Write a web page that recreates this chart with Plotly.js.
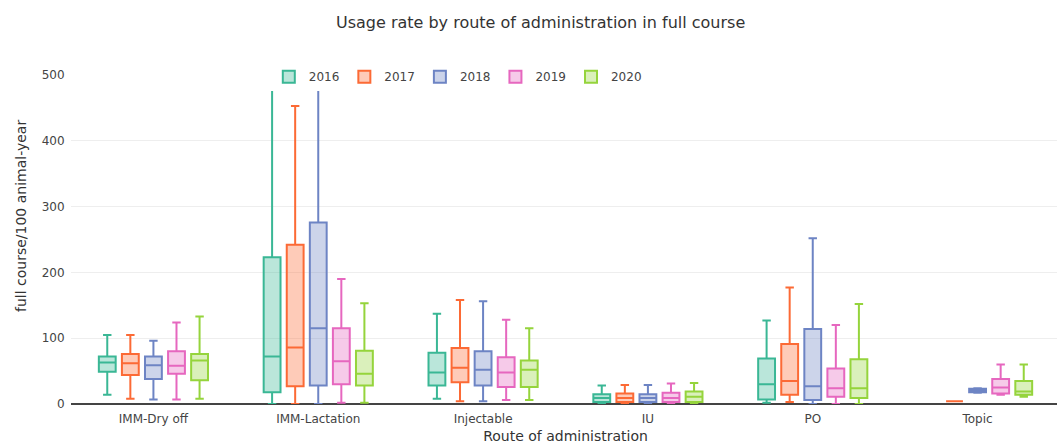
<!DOCTYPE html>
<html>
<head>
<meta charset="utf-8">
<script src="https://cdn.plot.ly/plotly-3.0.1.min.js"></script>
<style>
html,body{margin:0;padding:0;overflow:hidden;background:#fff;}
#chart{width:1060px;height:444px;}
</style>
</head>
<body>
<div id="chart"></div>
<script>
const categories = ['IMM-Dry off','IMM-Lactation','Injectable','IU','PO','Topic'];
const years = ['2016','2017','2018','2019','2020'];
const colors = ['#3ab795','#fc6a35','#6d84c4','#e667bf','#95d43c'];
const fills = ['rgba(58,183,149,0.35)','rgba(252,106,53,0.35)','rgba(109,132,196,0.35)','rgba(230,103,191,0.35)','rgba(149,212,60,0.35)'];

// Box statistics per year, in category order (null = no data)
const q1_2016  = [49, 18, 28, 3, 7, null];
const med_2016 = [63, 72, 48, 9, 30, null];
const q3_2016  = [72, 223, 78, 15, 69, null];
const lo_2016  = [14, 0, 8, 0, 2, null];
const hi_2016  = [105, 620, 137, 28, 127, null];

const q1_2017  = [44, 27, 33, 3, 14, 4];
const med_2017 = [62, 86, 55, 9, 35, 4];
const q3_2017  = [76, 242, 85, 16, 91, 4];
const lo_2017  = [8, 0, 4, 0, 3, 4];
const hi_2017  = [105, 453, 158, 29, 177, 4];

const q1_2018  = [38, 28, 28, 3, 6, 18];
const med_2018 = [59, 115, 52, 9, 27, 21];
const q3_2018  = [72, 276, 80, 15, 114, 23];
const lo_2018  = [7, 0, 4, 0, 0, 17];
const hi_2018  = [96, 700, 156, 29, 252, 24];

const q1_2019  = [46, 30, 26, 3, 11, 16];
const med_2019 = [58, 65, 48, 9, 24, 25];
const q3_2019  = [80, 115, 71, 17, 54, 38];
const lo_2019  = [7, 2, 6, 0, 0, 14];
const hi_2019  = [124, 190, 128, 31, 120, 60];

const q1_2020  = [36, 28, 26, 3, 9, 14];
const med_2020 = [66, 46, 52, 11, 24, 19];
const q3_2020  = [76, 81, 66, 19, 68, 35];
const lo_2020  = [8, 2, 6, 0, 0, 11];
const hi_2020  = [133, 153, 115, 32, 152, 60];

const stats = {
  '2016': [q1_2016, med_2016, q3_2016, lo_2016, hi_2016],
  '2017': [q1_2017, med_2017, q3_2017, lo_2017, hi_2017],
  '2018': [q1_2018, med_2018, q3_2018, lo_2018, hi_2018],
  '2019': [q1_2019, med_2019, q3_2019, lo_2019, hi_2019],
  '2020': [q1_2020, med_2020, q3_2020, lo_2020, hi_2020]
};

const traces = years.map((yr, i) => {
  const [q1, med, q3, lo, hi] = stats[yr];
  const idx = categories.map((c, k) => k).filter(k => q1[k] !== null);
  return {
    type: 'box',
    name: yr,
    x: idx.map(k => categories[k]),
    q1: idx.map(k => q1[k]),
    median: idx.map(k => med[k]),
    q3: idx.map(k => q3[k]),
    lowerfence: idx.map(k => lo[k]),
    upperfence: idx.map(k => hi[k]),
    boxpoints: false,
    marker: {color: colors[i]},
    line: {color: colors[i], width: 2},
    fillcolor: fills[i],
    whiskerwidth: 0.5
  };
});

const font = 'DejaVu Sans, Verdana, sans-serif';
const layout = {
  width: 1060, height: 444,
  margin: {l: 71, r: 0, t: 75, b: 40},
  paper_bgcolor: '#fff', plot_bgcolor: '#fff',
  font: {family: font, size: 12, color: '#444'},
  title: {text: 'Usage rate by route of administration in full course',
          font: {family: font, size: 16, color: '#333'}, x: 0.51, xanchor: 'center', y: 0.95, yanchor: 'middle'},
  boxmode: 'group', boxgap: 0.3, boxgroupgap: 0.27,
  xaxis: {
    type: 'category', categoryorder: 'array', categoryarray: categories,
    range: [-0.5, 5.5],
    title: {text: 'Route of administration', font: {family: font, size: 14, color: '#333'}, standoff: 8},
    showgrid: false, zeroline: false, showline: false,
    ticks: 'outside', ticklen: 4, tickcolor: 'rgba(0,0,0,0)',
    tickfont: {family: font, size: 12, color: '#444'}
  },
  yaxis: {
    range: [0, 500], tickvals: [0,100,200,300,400,500],
    gridcolor: '#eeeeee', gridwidth: 1,
    zeroline: true, zerolinecolor: '#444', zerolinewidth: 2,
    showline: false, ticks: 'outside', ticklen: 3, tickcolor: 'rgba(0,0,0,0)',
    tickfont: {family: font, size: 12, color: '#444'}
  },
  annotations: [{
    text: 'full course/100 animal-year', textangle: -90,
    xref: 'paper', yref: 'paper', x: -0.05, y: 0.57, xanchor: 'center', yanchor: 'middle',
    showarrow: false, font: {family: font, size: 14, color: '#333'}
  }],
  legend: {
    orientation: 'h', x: 0.2, xanchor: 'left', y: 0.995, yanchor: 'middle',
    bgcolor: '#ffffff', font: {family: font, size: 12, color: '#444'},
    itemwidth: 30
  },
  showlegend: true
};

Plotly.newPlot('chart', traces, layout, {displayModeBar: false, responsive: false});
</script>
</body>
</html>
